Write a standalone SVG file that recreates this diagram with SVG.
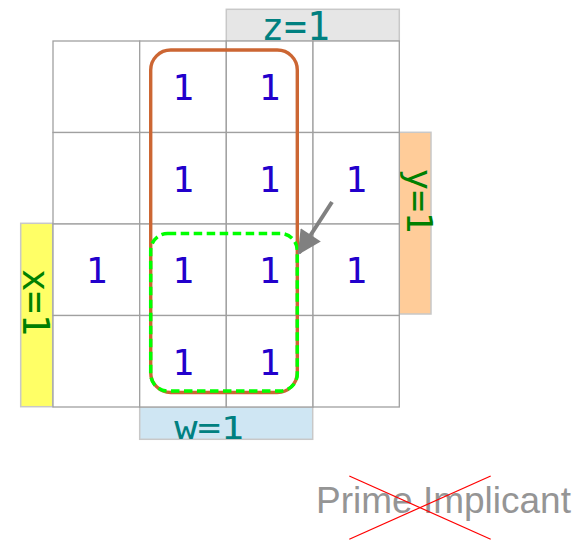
<svg xmlns="http://www.w3.org/2000/svg" width="587" height="540" viewBox="0 0 587 540">
  <defs>
    <style>
      .cell { fill: #ffffff; stroke: #a0a0a0; stroke-width: 1.3; }
      .one { font-family: "DejaVu Sans Mono", monospace; font-size: 36px; fill: #2200cc; text-anchor: middle; }
      .lbox { stroke: #c8c8c8; stroke-width: 1.5; }
      .lbl { font-family: "DejaVu Sans Mono", monospace; font-size: 38px; text-anchor: middle; }
      .teal { fill: #008080; }
      .green { fill: #008000; }
    </style>
    <marker id="arrowhead" viewBox="0 0 10 10" refX="9" refY="5" markerWidth="6.5" markerHeight="6" markerUnits="strokeWidth" orient="auto">
      <path d="M0,0 L10,5 L0,10 z" fill="#808080"/>
    </marker>
  </defs>

  <!-- variable labels -->
  <g id="label-z">
    <rect class="lbox" x="226.3" y="9.3" width="173" height="31.7" fill="#e6e6e6"/>
    <text class="lbl teal" transform="translate(295.5,40) scale(1,1.04)" x="0" y="0">z=1</text>
  </g>
  <g id="label-w">
    <rect class="lbox" x="139.7" y="407" width="173" height="32.3" fill="#cfe6f3"/>
    <text class="lbl teal" transform="translate(209.2,439.3) scale(1.02,0.86)" x="0" y="0">w=1</text>
  </g>
  <g id="label-x">
    <rect class="lbox" x="20.7" y="223.3" width="32" height="183.4" fill="#ffff66"/>
    <text class="lbl green" style="font-size:37px" transform="translate(23.3,302.5) rotate(90)" x="0" y="0">x=1</text>
  </g>
  <g id="label-y">
    <rect class="lbox" x="399.3" y="132.3" width="31.7" height="181.7" fill="#ffcc99"/>
    <text class="lbl green" style="font-size:36px" transform="translate(406.5,201) rotate(90)" x="0" y="0">y=1</text>
  </g>

  <!-- map cells -->
  <g id="map">
    <rect class="cell" x="53" y="41" width="86.7" height="91.5"/>
    <rect class="cell" x="139.7" y="41" width="86.6" height="91.5"/>
    <rect class="cell" x="226.3" y="41" width="86.7" height="91.5"/>
    <rect class="cell" x="313" y="41" width="86.3" height="91.5"/>
    <rect class="cell" x="53" y="132.5" width="86.7" height="91.5"/>
    <rect class="cell" x="139.7" y="132.5" width="86.6" height="91.5"/>
    <rect class="cell" x="226.3" y="132.5" width="86.7" height="91.5"/>
    <rect class="cell" x="313" y="132.5" width="86.3" height="91.5"/>
    <rect class="cell" x="53" y="224" width="86.7" height="91.5"/>
    <rect class="cell" x="139.7" y="224" width="86.6" height="91.5"/>
    <rect class="cell" x="226.3" y="224" width="86.7" height="91.5"/>
    <rect class="cell" x="313" y="224" width="86.3" height="91.5"/>
    <rect class="cell" x="53" y="315.5" width="86.7" height="91.5"/>
    <rect class="cell" x="139.7" y="315.5" width="86.6" height="91.5"/>
    <rect class="cell" x="226.3" y="315.5" width="86.7" height="91.5"/>
    <rect class="cell" x="313" y="315.5" width="86.3" height="91.5"/>
  </g>

  <!-- cell values -->
  <g id="ones">
    <text class="one" x="183" y="100">1</text>
    <text class="one" x="269.5" y="100">1</text>
    <text class="one" x="183" y="191.5">1</text>
    <text class="one" x="269.5" y="191.5">1</text>
    <text class="one" x="356" y="191.5">1</text>
    <text class="one" x="96.5" y="283">1</text>
    <text class="one" x="183" y="283">1</text>
    <text class="one" x="269.5" y="283">1</text>
    <text class="one" x="356" y="283">1</text>
    <text class="one" x="183" y="374.5">1</text>
    <text class="one" x="269.5" y="374.5">1</text>
  </g>

  <!-- groupings -->
  <g id="loop-prime">
    <rect x="150.7" y="50" width="146.6" height="342.5" rx="20" ry="20" fill="none" stroke="#cc6633" stroke-width="3.4"/>
  </g>
  <g id="loop-sub">
    <rect x="150.7" y="233.5" width="146.6" height="157.5" rx="17" ry="17" fill="none" stroke="#00ff00" stroke-width="3.5" stroke-dasharray="8.5 4.5"/>
  </g>

  <!-- connectors -->
  <g id="connectors">
    <line x1="332" y1="202" x2="299" y2="253" stroke="#808080" stroke-width="4" marker-end="url(#arrowhead)"/>
  </g>

  <!-- caption -->
  <g id="caption">
    <text x="316" y="513.3" font-family="Liberation Sans, Arial, sans-serif" font-size="37" fill="#959595">Prime Implicant</text>
    <line x1="349.3" y1="476" x2="490.7" y2="539.3" stroke="#ff0000" stroke-width="1.2"/>
    <line x1="349.3" y1="539.3" x2="490.7" y2="476" stroke="#ff0000" stroke-width="1.2"/>
  </g>
</svg>
